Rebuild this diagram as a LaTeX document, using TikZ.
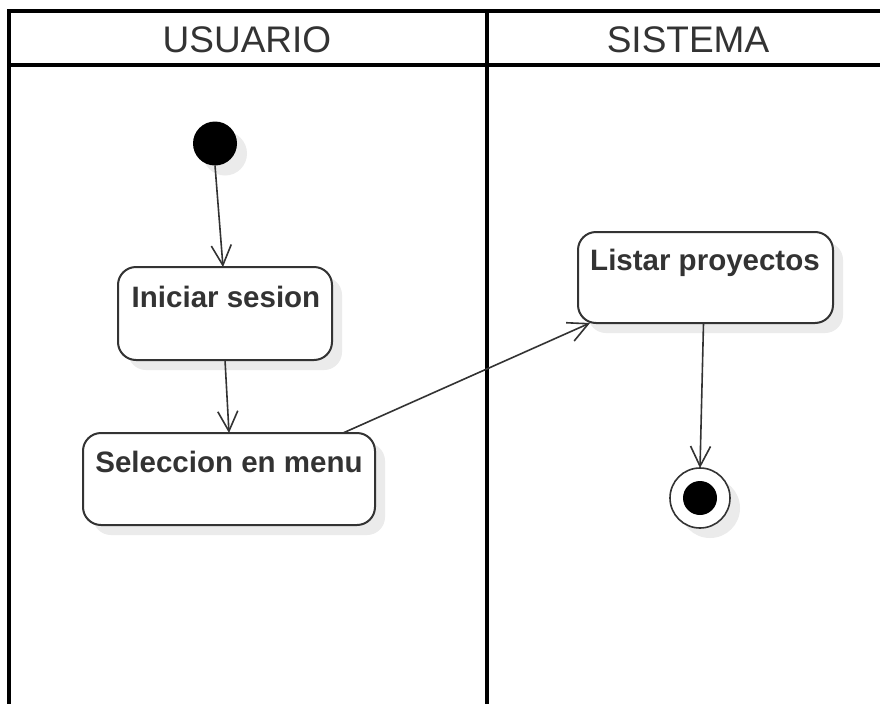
\documentclass[tikz,border=0pt]{standalone}
\usepackage{fontspec}
\setmainfont{Liberation Sans}
\usetikzlibrary{arrows.meta,shadows,calc}
\definecolor{ink}{HTML}{333333}
\tikzset{
  lane/.style={line width=4pt, draw=black},
  shad/.style={drop shadow={shadow xshift=10pt, shadow yshift=-10pt, fill=black!8, opacity=1}},
  act/.style={draw=ink, line width=2pt, fill=white, rounded corners=18pt,
    inner sep=0pt, outer sep=0pt, shad},
  acttext/.style={anchor=base, font=\fontsize{29.5}{35}\selectfont\bfseries, text=ink, inner sep=0pt},
  head/.style={anchor=base, font=\fontsize{37}{44}\selectfont, text=ink, inner sep=0pt},
  flow/.style={draw=ink, line width=1.6pt,
    -{Straight Barb[length=20pt,width=20pt,line width=1.6pt]}},
  startdot/.style={circle, fill=black, minimum size=44pt, inner sep=0pt, outer sep=0pt, shad},
  endring/.style={circle, draw=ink, line width=1.6pt, fill=white, minimum size=60pt,
    inner sep=0pt, outer sep=0pt, shad},
  enddot/.style={circle, fill=black, minimum size=34pt, inner sep=0pt, outer sep=0pt},
}
\begin{document}
\begin{tikzpicture}[x=1pt, y=-1pt]
  \useasboundingbox (0,0) rectangle (880,704);
  \fill[white] (0,0) rectangle (880,704);
  % swimlane frame
  \draw[lane] (880,11) -- (9,11) -- (9,704);
  \draw[lane] (9,64.5) -- (880,64.5);
  \draw[lane] (486.5,11) -- (486.5,704);
  \node[head] (hu) at (247,52) {USUARIO};
  \node[head] (hs) at (688,52) {SISTEMA};
  % nodes
  \node[startdot] (start) at (215,143.5) {};
  \node[act, minimum width=214pt, minimum height=93pt] (ini) at (225,313.5) {};
  \node[acttext] (tini) at (226,307) {Iniciar sesion};
  \node[act, minimum width=292pt, minimum height=92pt] (sel) at (229,479) {};
  \node[acttext] (tsel) at (229,472) {Seleccion en menu};
  \node[act, minimum width=255pt, minimum height=91pt] (lis) at (705.5,277.5) {};
  \node[acttext] (tlis) at (705,270) {Listar proyectos};
  \node[endring] (fin) at (700,498) {};
  \node[enddot] (findot) at (fin) {};
  % connectors
  \draw[flow] (start.south) -- ($(ini.north)+(-2,0)$);
  \draw[flow] (ini.south) -- (sel.north);
  \draw[flow] ($(sel.north east)+(-32,0)$) -- ($(lis.south west)+(12,0)$);
  \draw[flow] ($(lis.south)+(-2,0)$) -- (fin.north);
\end{tikzpicture}
\end{document}
